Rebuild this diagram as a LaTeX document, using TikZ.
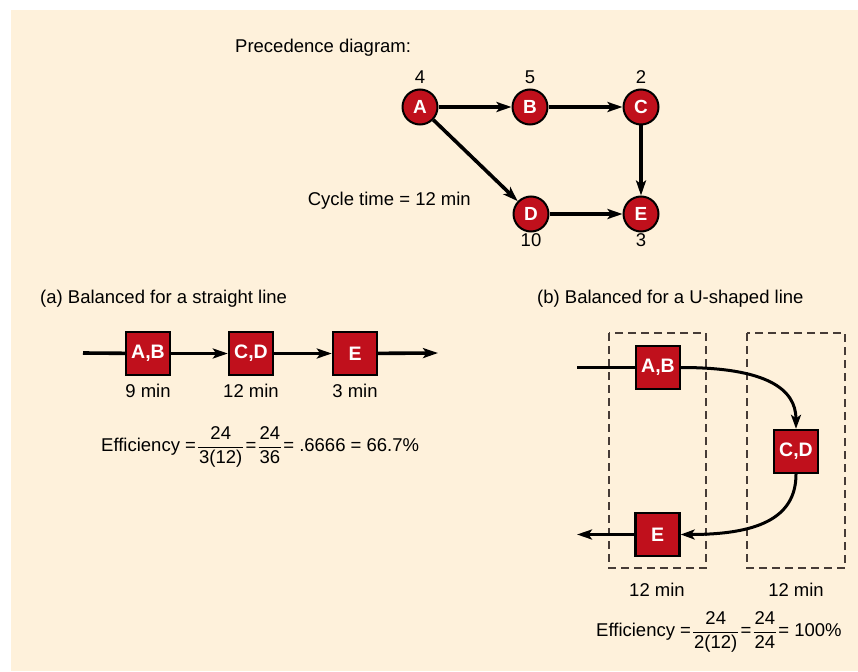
\documentclass[tikz,border=0pt]{standalone}
\usepackage{amsmath}
\usepackage{fontspec}
\setmainfont{Liberation Sans}
\usetikzlibrary{arrows.meta}
\definecolor{bgc}{RGB}{254,241,219}
\definecolor{myred}{RGB}{192,16,28}
\definecolor{dashc}{RGB}{70,60,55}
\begin{document}
\begin{tikzpicture}[x=1pt,y=-1pt,
  txt/.style={font=\fontsize{18.5}{22}\selectfont, inner sep=0pt},
  circ/.style={circle, fill=myred, draw=black, line width=2pt, minimum size=35pt, inner sep=0pt, text=white, font=\bfseries\fontsize{19}{22}\selectfont},
  box/.style={rectangle, fill=myred, draw=black, line width=2.4pt, minimum width=44pt, minimum height=43pt, inner sep=0pt, text=white, font=\bfseries\fontsize{19.5}{22}\selectfont},
  arr/.style={line width=3.6pt, -{Stealth[length=15pt,width=10pt,inset=3.5pt]}},
  plain/.style={line width=3.6pt},
  carr/.style={line width=3pt, -{Stealth[length=14pt,width=10pt,inset=3.5pt]}},
  dbox/.style={draw=dashc, line width=1.1pt, dash pattern=on 8pt off 5pt}
]
\useasboundingbox (0,0) rectangle (858,671);
\fill[white] (0,0) rectangle (858,671);
\fill[bgc] (11,10) rectangle (858,671);

% Precedence diagram
\node[txt, anchor=west] (title) at (235,48) {Precedence diagram:};
\node[circ] (A) at (420,107) {A};
\node[circ] (B) at (530,107) {B};
\node[circ] (C) at (641,107) {C};
\node[circ] (D) at (531,214) {D};
\node[circ] (E) at (641,214) {E};
\node[txt] (tA) at (420,77) {4};
\node[txt] (tB) at (530,77) {5};
\node[txt] (tC) at (641,77) {2};
\node[txt] (tD) at (531,240) {10};
\node[txt] (tE) at (641,240) {3};
\draw[arr] (A) -- (B);
\draw[arr] (B) -- (C);
\draw[arr] (A) -- (D);
\draw[arr] (C) -- (E);
\draw[arr] (D) -- (E);
\node[txt, anchor=east] (cyc) at (471,201) {Cycle time = 12 min};

% (a)
\node[txt, anchor=west] (ha) at (40,299) {(a) Balanced for a straight line};
\coordinate (ain) at (83,353);
\coordinate (aout) at (438,353);
\node[box] (AB1) at (148,353.5) {A,B};
\node[box] (CD1) at (251,353.5) {C,D};
\node[box] (E1) at (355,353.5) {E};
\draw[plain] (ain) -- (AB1);
\draw[arr] (AB1) -- (CD1);
\draw[arr] (CD1) -- (E1);
\draw[arr] (E1) -- (aout);
\node[txt] (m1) at (148,391) {9 min};
\node[txt] (m2) at (251,391) {12 min};
\node[txt] (m3) at (355,391) {3 min};
\node[txt, anchor=west] (effa) at (101,447) {Efficiency =\kern1pt$\dfrac{\mbox{24}}{\mbox{\kern1pt3(12)\kern1pt}}$\kern1pt=\kern1pt$\dfrac{\mbox{\kern1pt24\kern1pt}}{\mbox{\kern1pt36\kern1pt}}$\kern1pt= .6666 = 66.7\%};

% (b)
\node[txt, anchor=west] (hb) at (537,299) {(b) Balanced for a U-shaped line};
\draw[dbox] (609,333) rectangle (706,568);
\draw[dbox] (747,333) rectangle (845,568);
\coordinate (bin) at (577,367.5);
\coordinate (bout) at (577,534.5);
\node[box] (AB2) at (658,367.5) {A,B};
\node[box] (CD2) at (796,451.5) {C,D};
\node[box] (E2) at (657.5,534.5) {E};
\draw[plain] (bin) -- (AB2);
\draw[carr] (AB2.east) .. controls +(85,0) and +(0,-40) .. (CD2.north);
\draw[carr] (CD2.south) .. controls +(0,45) and +(75,0) .. (E2.east);
\draw[arr] (E2) -- (bout);
\node[txt] (m4) at (657,590) {12 min};
\node[txt] (m5) at (796,590) {12 min};
\node[txt, anchor=west] (effb) at (596,632) {Efficiency =\kern1pt$\dfrac{\mbox{24}}{\mbox{\kern1pt2(12)\kern1pt}}$\kern1pt=\kern1pt$\dfrac{\mbox{\kern1pt24\kern1pt}}{\mbox{\kern1pt24\kern1pt}}$\kern1pt= 100\%};
\end{tikzpicture}
\end{document}
